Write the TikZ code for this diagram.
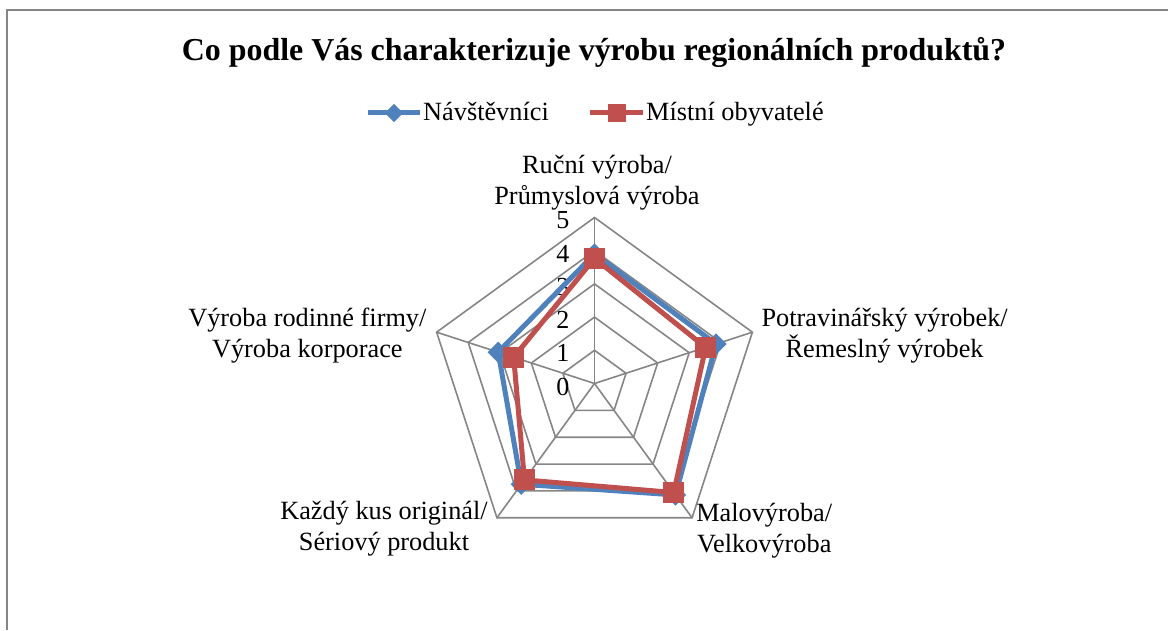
\documentclass[tikz,border=0pt]{standalone}
\usepackage{fontspec}
\setmainfont{Liberation Serif}
\usetikzlibrary{calc}
\definecolor{gridgray}{HTML}{868686}
\definecolor{visitblue}{HTML}{4F81BD}
\definecolor{localred}{HTML}{C0504D}
\begin{document}
\begin{tikzpicture}[x=1pt,y=1pt,
  gridline/.style={draw=gridgray, line width=1.6pt},
  lbl/.style={font=\fontsize{26.3}{31}\selectfont, align=center, inner sep=0pt},
  ticklbl/.style={font=\fontsize{26}{30}\selectfont, inner sep=0pt, anchor=east},
  titletext/.style={font=\fontsize{31.9}{36}\selectfont\bfseries, inner sep=0pt},
  visitline/.style={draw=visitblue, line width=5pt, line join=round},
  localline/.style={draw=localred, line width=5pt, line join=round},
  visitmark/.style={fill=visitblue, rotate=45, minimum size=15pt, inner sep=0pt, outer sep=0pt},
  localmark/.style={fill=localred, minimum size=21pt, inner sep=0pt, outer sep=0pt},
  legmarkv/.style={fill=visitblue, rotate=45, minimum size=13pt, inner sep=0pt},
  legmarkl/.style={fill=localred, minimum size=18pt, inner sep=0pt},
]
\useasboundingbox (0,0) rectangle (1168,630);
\fill[white] (0,0) rectangle (1168,630);
% chart area border
\coordinate (fb) at (7,0);
\coordinate (fc) at (7,620);
\coordinate (fr) at (1168,620);
\draw[gridgray, line width=1.6pt] (fb) -- (fc) -- (fr);

% title
\node[titletext, anchor=base] (title) at (594,569)
  {Co podle Vás charakterizuje výrobu regionálních produktů?};

% legend
\coordinate (lvA) at (368,517);
\coordinate (lvB) at (420,517);
\draw[visitline] (lvA) -- (lvB);
\node[legmarkv] (lvm) at (394,517) {};
\node[lbl, anchor=base west] (lvt) at (423,509) {Návštěvníci};
\coordinate (llA) at (590,517);
\coordinate (llB) at (643,517);
\draw[localline] (llA) -- (llB);
\node[legmarkl] (llm) at (616.5,517) {};
\node[lbl, anchor=base west] (llt) at (646,509) {Místní obyvatelé};

% radar grid
\coordinate (O) at (594.5,246.5);
\def\unitr{33.2}
\foreach \k in {1,...,5}{
  \draw[gridline] ($(O)+(90:{\k*\unitr})$) -- ($(O)+(18:{\k*\unitr})$)
    -- ($(O)+(-54:{\k*\unitr})$) -- ($(O)+(-126:{\k*\unitr})$)
    -- ($(O)+(162:{\k*\unitr})$) -- cycle;
}
\foreach \a [count=\i] in {90,18,-54,-126,162}{
  \coordinate (v\i) at ($(O)+(\a:{5*\unitr})$);
  \draw[gridline] (O) -- (v\i);
}

% value axis labels
\foreach \k in {0,...,5}{
  \node[ticklbl] (t\k) at ($(O)+(-25,{\k*\unitr-3})$) {\k};
}

% category labels
\node[lbl, anchor=south] (c1) at ($(v1)+(2.5,7)$) {Ruční výroba/\\Průmyslová výroba};
\node[lbl, anchor=west] (c2) at ($(v2)+(9,-3)$) {Potravinářský výrobek/\\Řemeslný výrobek};
\node[lbl, anchor=north west] (c3) at ($(v3)+(4,15)$) {Malovýroba/\\Velkovýroba};
\node[lbl, anchor=north east] (c4) at ($(v4)+(-9,17)$) {Každý kus originál/\\Sériový produkt};
\node[lbl, anchor=east] (c5) at ($(v5)+(-10,-3)$) {Výroba rodinné firmy/\\Výroba korporace};

% series: visitors
\foreach \a/\val [count=\i] in {90/3.9,18/3.85,-54/4.15,-126/3.75,162/3.05}{
  \coordinate (b\i) at ($(O)+(\a:{\val*\unitr})$);
}
\draw[visitline] (b1) -- (b2) -- (b3) -- (b4) -- (b5) -- cycle;
\foreach \i in {1,...,5}{ \node[visitmark] (bm\i) at (b\i) {}; }

% series: local residents
\foreach \a/\val [count=\i] in {90/3.77,18/3.52,-54/4.06,-126/3.59,162/2.56}{
  \coordinate (r\i) at ($(O)+(\a:{\val*\unitr})$);
}
\draw[localline] (r1) -- (r2) -- (r3) -- (r4) -- (r5) -- cycle;
\foreach \i in {1,...,5}{ \node[localmark] (rm\i) at (r\i) {}; }
\end{tikzpicture}
\end{document}
